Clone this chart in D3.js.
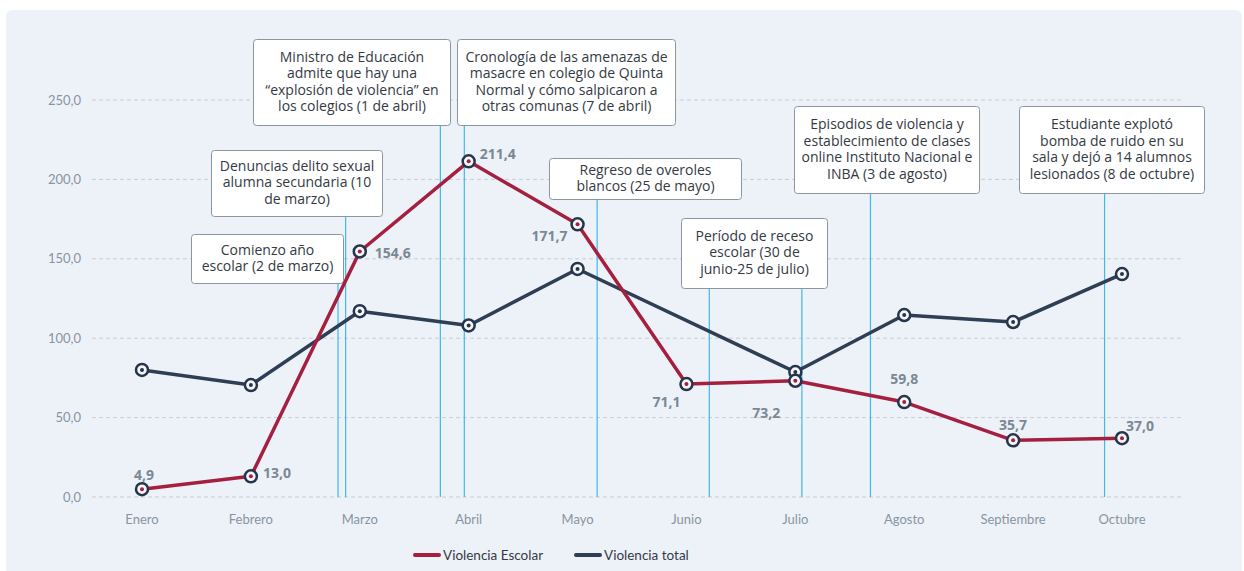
<!DOCTYPE html>
<html>
<head>
<meta charset="utf-8">
<script src="https://cdn.jsdelivr.net/npm/d3@7"></script>
<style>
  body { margin: 0; background: #fff; font-family: Lato, "Open Sans", sans-serif; }
</style>
</head>
<body>
<script>
// chart data
var months = ["Enero", "Febrero", "Marzo", "Abril", "Mayo", "Junio", "Julio", "Agosto", "Septiembre", "Octubre"];
var escolar = [4.9, 13.0, 154.6, 211.4, 171.7, 71.1, 73.2, 59.8, 35.7, 37.0];
var total = [80.0, 70.5, 117.0, 108.0, 143.6, null, 78.7, 114.6, 110.2, 140.4];
var yTicks = [0, 50, 100, 150, 200, 250];
var seriesNames = ["Violencia Escolar", "Violencia total"];

// events: text lines and position on the month axis (fractional month index)
var noteTexts = [
  ["Comienzo año", "escolar (2 de marzo)"],
  ["Denuncias delito sexual", "alumna secundaria (10", "de marzo)"],
  ["Ministro de Educación", "admite que hay una", "“explosión de violencia” en", "los colegios (1 de abril)"],
  ["Cronología de las amenazas de", "masacre en colegio de Quinta", "Normal y cómo salpicaron a", "otras comunas (7 de abril)"],
  ["Regreso de overoles", "blancos (25 de mayo)"],
  ["Período de receso", "escolar (30 de", "junio-25 de julio)"],
  ["Episodios de violencia y", "establecimiento de clases", "online Instituto Nacional e", "INBA (3 de agosto)"],
  ["Estudiante explotó", "bomba de ruido en su", "sala y dejó a 14 alumnos", "lesionados (8 de octubre)"]
];
var noteDates = [[1.80], [1.87], [2.74], [2.96], [4.18], [5.21, 6.06], [6.69], [8.84]];

(function(){
  var width = 1244, height = 571;

  var svg = d3.select("body").append("svg")
    .attr("width", width)
    .attr("height", height);

  // panel background
  svg.append("rect")
    .attr("x", 6).attr("y", 10)
    .attr("width", 1236).attr("height", 566)
    .attr("rx", 6)
    .attr("fill", "#edf2f8");

  var x = d3.scaleLinear().domain([0, months.length - 1]).range([142, 1122]);
  var y = d3.scaleLinear().domain([0, 250]).range([497, 100]);

  // grid + y labels
  svg.selectAll(".grid").data(yTicks).enter().append("line")
    .attr("x1", 92).attr("x2", 1181)
    .attr("y1", function(d){ return y(d); })
    .attr("y2", function(d){ return y(d); })
    .attr("stroke", "#c9cdd3")
    .attr("stroke-width", 1)
    .attr("stroke-dasharray", "4,3");

  var fmt = function(d){ return d3.format(".1f")(d).replace(".", ","); };

  svg.selectAll(".ylab").data(yTicks).enter().append("text")
    .attr("x", 81)
    .attr("y", function(d){ return y(d); })
    .attr("dy", "0.35em")
    .attr("text-anchor", "end")
    .attr("font-size", 13)
    .attr("fill", "#8894a2")
    .text(fmt);

  // x labels
  svg.selectAll(".xlab").data(months).enter().append("text")
    .attr("x", function(d, i){ return x(i); })
    .attr("y", 524)
    .attr("text-anchor", "middle")
    .attr("font-size", 13)
    .attr("fill", "#8894a2")
    .text(function(d){ return d; });

  // annotation boxes (pixel layout)
  var noteBoxes = [
    {x: 191, y: 234, w: 152, h: 49},
    {x: 211, y: 150, w: 171, h: 66},
    {x: 253, y: 39, w: 197, h: 86},
    {x: 457, y: 39, w: 218, h: 86},
    {x: 549, y: 158, w: 192, h: 41},
    {x: 681, y: 218, w: 146, h: 70},
    {x: 794, y: 106, w: 185, h: 87},
    {x: 1019, y: 106, w: 185, h: 87}
  ];

  // event lines
  noteDates.forEach(function(dates, i){
    var b = noteBoxes[i];
    dates.forEach(function(d){
      svg.append("line")
        .attr("x1", x(d)).attr("x2", x(d))
        .attr("y1", b.y + b.h).attr("y2", y(0))
        .attr("stroke", "#3fb8ea")
        .attr("stroke-width", 1.2);
    });
  });

  noteTexts.forEach(function(lines, i){
    var b = noteBoxes[i];
    svg.append("rect")
      .attr("x", b.x + 0.5).attr("y", b.y + 0.5)
      .attr("width", b.w).attr("height", b.h)
      .attr("rx", 3)
      .attr("fill", "#fff")
      .attr("stroke", "#8c95a1")
      .attr("stroke-width", 1);
    var lh = 16.5;
    var top = b.y + b.h / 2 - (lines.length * lh) / 2 + 12.5;
    lines.forEach(function(t, j){
      svg.append("text")
        .attr("x", b.x + b.w / 2 + 0.5)
        .attr("y", top + j * lh)
        .attr("text-anchor", "middle")
        .attr("font-family", "'Open Sans', sans-serif")
        .attr("font-size", 14)
        .attr("fill", "#333a44")
        .text(t);
    });
  });

  // lines
  var line = d3.line()
    .x(function(d){ return x(d[0]); })
    .y(function(d){ return y(d[1]); });

  var totalPts = total.map(function(d, i){ return d == null ? null : [i, d]; }).filter(function(d){ return d; });
  var escolarPts = escolar.map(function(d, i){ return [i, d]; });

  svg.append("path")
    .datum(totalPts)
    .attr("d", line)
    .attr("fill", "none")
    .attr("stroke", "#2e3e54")
    .attr("stroke-width", 3.5)
    .attr("stroke-linejoin", "round");

  svg.append("path")
    .datum(escolarPts)
    .attr("d", line)
    .attr("fill", "none")
    .attr("stroke", "#a51f3f")
    .attr("stroke-width", 3.5)
    .attr("stroke-linejoin", "round");

  // markers
  function markers(pts, dotColor){
    var g = svg.append("g");
    g.selectAll("circle.m").data(pts).enter().append("circle")
      .attr("cx", function(d){ return x(d[0]); })
      .attr("cy", function(d){ return y(d[1]); })
      .attr("r", 6)
      .attr("fill", "#f4f6f9")
      .attr("stroke", "#26354a")
      .attr("stroke-width", 2.5);
    g.selectAll("circle.d").data(pts).enter().append("circle")
      .attr("cx", function(d){ return x(d[0]); })
      .attr("cy", function(d){ return y(d[1]); })
      .attr("r", 2)
      .attr("fill", dotColor);
  }
  markers(totalPts, "#26354a");
  markers(escolarPts, "#a51f3f");

  // value labels for escolar
  var labelOffsets = [
    [2, -9, "middle"], [12, 2, "start"], [15, 7, "start"], [11, -2, "start"],
    [-10, 17, "end"], [-20, 23, "middle"], [-29, 37, "middle"], [0, -18, "middle"],
    [0, -10, "middle"], [18, -7, "middle"]
  ];
  svg.selectAll(".vlab").data(escolar).enter().append("text")
    .attr("x", function(d, i){ return x(i) + labelOffsets[i][0]; })
    .attr("y", function(d, i){ return y(d) + labelOffsets[i][1]; })
    .attr("text-anchor", function(d, i){ return labelOffsets[i][2]; })
    .attr("font-size", 14)
    .attr("font-weight", 700)
    .attr("font-family", "'Open Sans', sans-serif")
    .attr("fill", "#7b8794")
    .text(fmt);

  // legend
  var legend = svg.append("g");
  var legColors = ["#a51f3f", "#2e3e54"];
  var legX = [415, 576];
  seriesNames.forEach(function(n, i){
    legend.append("line")
      .attr("x1", legX[i]).attr("x2", legX[i] + 24)
      .attr("y1", 555).attr("y2", 555)
      .attr("stroke", legColors[i])
      .attr("stroke-width", 4)
      .attr("stroke-linecap", "round");
    legend.append("text")
      .attr("x", legX[i] + 28)
      .attr("y", 560)
      .attr("font-size", 13.5)
      .attr("fill", "#333a44")
      .text(n);
  });
})();
</script>
</body>
</html>
